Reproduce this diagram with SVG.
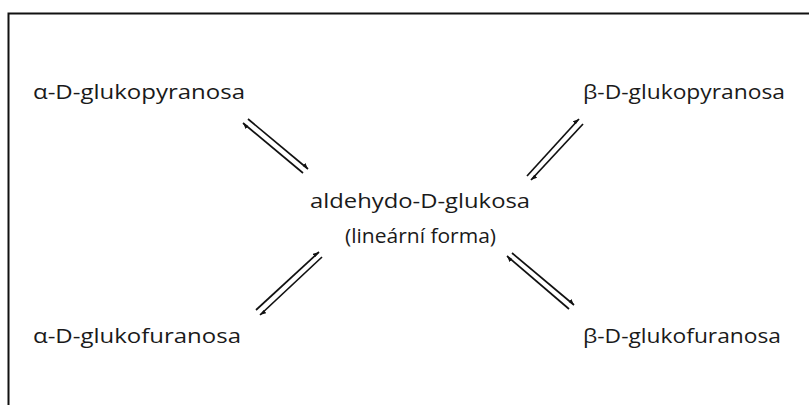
<svg xmlns="http://www.w3.org/2000/svg" width="809" height="405" viewBox="0 0 809 405">
<style>
text{font-family:"Open Sans","Noto Sans","Liberation Sans",sans-serif;font-size:20px;fill:#1a1a1a}
.l{stroke:#111;stroke-width:1.7;fill:none}
</style>
<defs>
<marker id="h" viewBox="0 0 10 10" refX="10" refY="5" markerWidth="6" markerHeight="6" orient="auto" markerUnits="userSpaceOnUse">
<path d="M0,0 L10,5 L0,7 Z" fill="#111"/>
</marker>
</defs>
<rect x="8.5" y="13.5" width="820" height="420" fill="#fff" stroke="#111" stroke-width="2"/>
<g id="alpha-pyr"><text x="33" y="99" textLength="212" lengthAdjust="spacingAndGlyphs">α-D-glukopyranosa</text></g>
<g id="beta-pyr"><text x="583" y="99" textLength="202" lengthAdjust="spacingAndGlyphs">β-D-glukopyranosa</text></g>
<g id="center"><text x="310" y="208" textLength="220" lengthAdjust="spacingAndGlyphs">aldehydo-D-glukosa</text>
<text x="345" y="243" textLength="151" lengthAdjust="spacingAndGlyphs">(lineární forma)</text></g>
<g id="alpha-fur"><text x="33" y="343" textLength="208" lengthAdjust="spacingAndGlyphs">α-D-glukofuranosa</text></g>
<g id="beta-fur"><text x="583" y="343" textLength="198" lengthAdjust="spacingAndGlyphs">β-D-glukofuranosa</text></g>
<g id="connectors">
<line class="l" x1="248" y1="119" x2="308" y2="169" marker-end="url(#h)"/>
<line class="l" x1="303" y1="173" x2="243" y2="123" marker-end="url(#h)"/>
<line class="l" x1="527" y1="176" x2="579" y2="119" marker-end="url(#h)"/>
<line class="l" x1="583" y1="124" x2="531" y2="180" marker-end="url(#h)"/>
<line class="l" x1="256" y1="310" x2="319" y2="252" marker-end="url(#h)"/>
<line class="l" x1="322" y1="257" x2="260" y2="315" marker-end="url(#h)"/>
<line class="l" x1="569" y1="309" x2="507" y2="256" marker-end="url(#h)"/>
<line class="l" x1="512" y1="253" x2="574" y2="305" marker-end="url(#h)"/>
</g>
</svg>
